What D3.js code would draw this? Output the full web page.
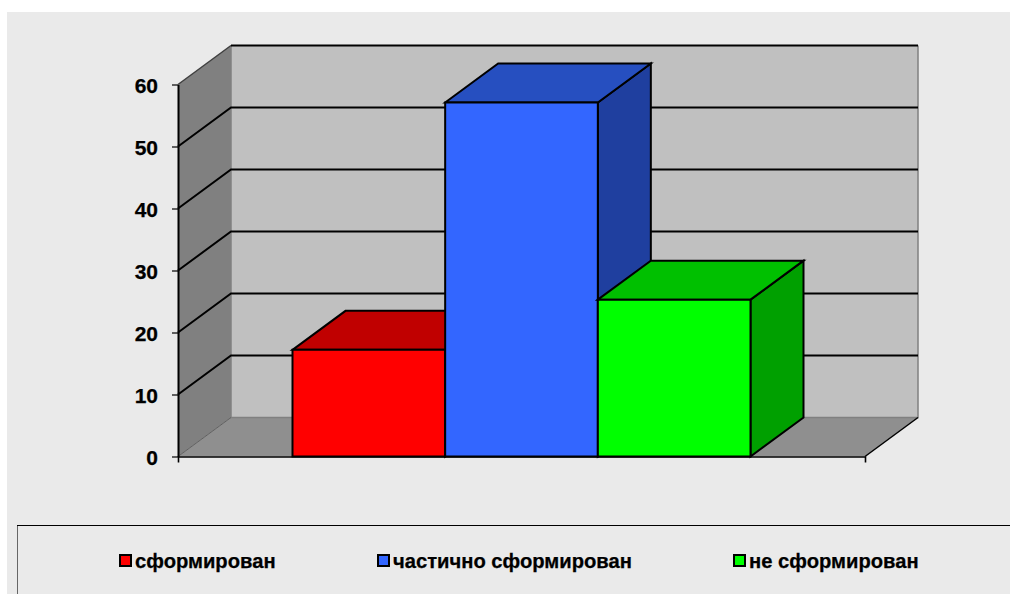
<!DOCTYPE html>
<html><head><meta charset="utf-8">
<script src="https://cdn.jsdelivr.net/npm/d3@7"></script>
<style>html,body{margin:0;padding:0;background:#fff}svg{display:block}text{font-family:"Liberation Sans",Arial,sans-serif;font-weight:bold;fill:#000;stroke:#000;stroke-width:.25px}</style>
</head><body><svg id="c" width="1010" height="594"></svg>
<script>
const seriesNames = ["сформирован","частично сформирован","не сформирован"];
const seriesValues = [17.2,57.1,25.3];
const yTicks = [0,10,20,30,40,50,60];
const frontColors = ["#FF0000","#3366FF","#00FF00"];
const topColors = ["#C00000","#264FC0","#00C000"];
const sideColors = ["#A00000","#1F3F9F","#00A000"];
const legendX = [119,377,733];

const svg = d3.select("#c");
const W=1010,H=594;
svg.append("rect").attr("x",7).attr("y",12).attr("width",W-7).attr("height",H-12).attr("fill","#EAEAEA");

const dx=53, dy=-39;
const x = d3.scaleBand().domain(seriesNames).range([178,865]).paddingInner(0).paddingOuter(0.75);
const y = d3.scaleLinear().domain([0,60]).range([456.5,84.5]);
const [x0,x1]=x.range();
const poly = pts => "M"+pts.map(p=>p.join(",")).join("L")+"Z";
const line = pts => "M"+pts.map(p=>p.join(",")).join("L");

// walls
svg.append("path").attr("d",poly([[x0+dx,y(60)+dy],[x1+dx,y(60)+dy],[x1+dx,y(0)+dy],[x0+dx,y(0)+dy]])).attr("fill","#C0C0C0");
svg.append("path").attr("d",poly([[x0,y(60)],[x0+dx,y(60)+dy],[x0+dx,y(0)+dy],[x0,y(0)]])).attr("fill","#808080");
svg.append("path").attr("d",poly([[x0,y(0)],[x0+dx,y(0)+dy],[x1+dx,y(0)+dy],[x1,y(0)]])).attr("fill","#8F8F8F");
// wall edges
svg.append("path").attr("d",line([[x0+dx,y(60)+dy],[x0+dx,y(0)+dy],[x1+dx,y(0)+dy],[x1+dx,y(60)+dy]])).attr("fill","none").attr("stroke","#808080").attr("stroke-width",1.5);
svg.append("path").attr("d",line([[x0,y(0)],[x0+dx,y(0)+dy]])).attr("fill","none").attr("stroke","#606060").attr("stroke-width",1);
svg.append("path").attr("d",line([[x1,y(0)],[x1+dx,y(0)+dy]])).attr("fill","none").attr("stroke","#000").attr("stroke-width",1.5);
svg.append("path").attr("d",line([[x0,y(60)],[x0+dx,y(60)+dy]])).attr("fill","none").attr("stroke","#404040").attr("stroke-width",1.5);

// gridlines
yTicks.filter(t=>t>0).forEach(t=>{
  const pts = t===60 ? [[x0+dx,y(t)+dy],[x1+dx,y(t)+dy]] : [[x0,y(t)],[x0+dx,y(t)+dy],[x1+dx,y(t)+dy]];
  svg.append("path").attr("d",line(pts)).attr("fill","none").attr("stroke","#000").attr("stroke-width",2);
});

// bars
seriesNames.forEach((s,i)=>{
  const l=x(s), r=l+x.bandwidth(), t=y(seriesValues[i]), b=y(0);
  const g=svg.append("g").attr("stroke","#000").attr("stroke-width",2).attr("stroke-linejoin","miter");
  g.append("path").attr("d",poly([[r,t],[r+dx,t+dy],[r+dx,b+dy],[r,b]])).attr("fill",sideColors[i]);
  g.append("path").attr("d",poly([[l,t],[l+dx,t+dy],[r+dx,t+dy],[r,t]])).attr("fill",topColors[i]);
  g.append("path").attr("d",poly([[l,t],[r,t],[r,b],[l,b]])).attr("fill",frontColors[i]);
});

// axes
const ga=svg.append("g").attr("transform",`translate(${x0},0)`)
  .call(d3.axisLeft(y).tickValues(yTicks).tickFormat(d3.format("d")).tickSize(6).tickSizeOuter(0).tickPadding(14));
ga.select(".domain").attr("stroke","#000").attr("stroke-width",2);
ga.selectAll(".tick line").attr("stroke","#000").attr("stroke-width",1.2);
ga.selectAll(".tick text").style("font-size","21px").attr("fill","#000").attr("y",0).attr("dy","0.37em");
const gb=svg.append("g").attr("transform",`translate(0,${y(0)})`)
  .call(d3.axisBottom(x).tickValues([]).tickSizeOuter(6));
gb.select(".domain").attr("stroke","#000").attr("stroke-width",1.6).attr("fill","none");

// legend
svg.append("path").attr("d",line([[17.5,H],[17.5,526]])).attr("fill","none").attr("stroke","#666").attr("stroke-width",1);
svg.append("path").attr("d",line([[17,525.5],[W,525.5]])).attr("fill","none").attr("stroke","#000").attr("stroke-width",1);
seriesNames.forEach((s,i)=>{
  svg.append("rect").attr("x",legendX[i]+1).attr("y",555).attr("width",11).attr("height",11)
    .attr("fill",frontColors[i]).attr("stroke","#000").attr("stroke-width",2);
  svg.append("text").attr("x",legendX[i]+16).attr("y",568).style("font-size","20.2px").text(s);
});
</script></body></html>
